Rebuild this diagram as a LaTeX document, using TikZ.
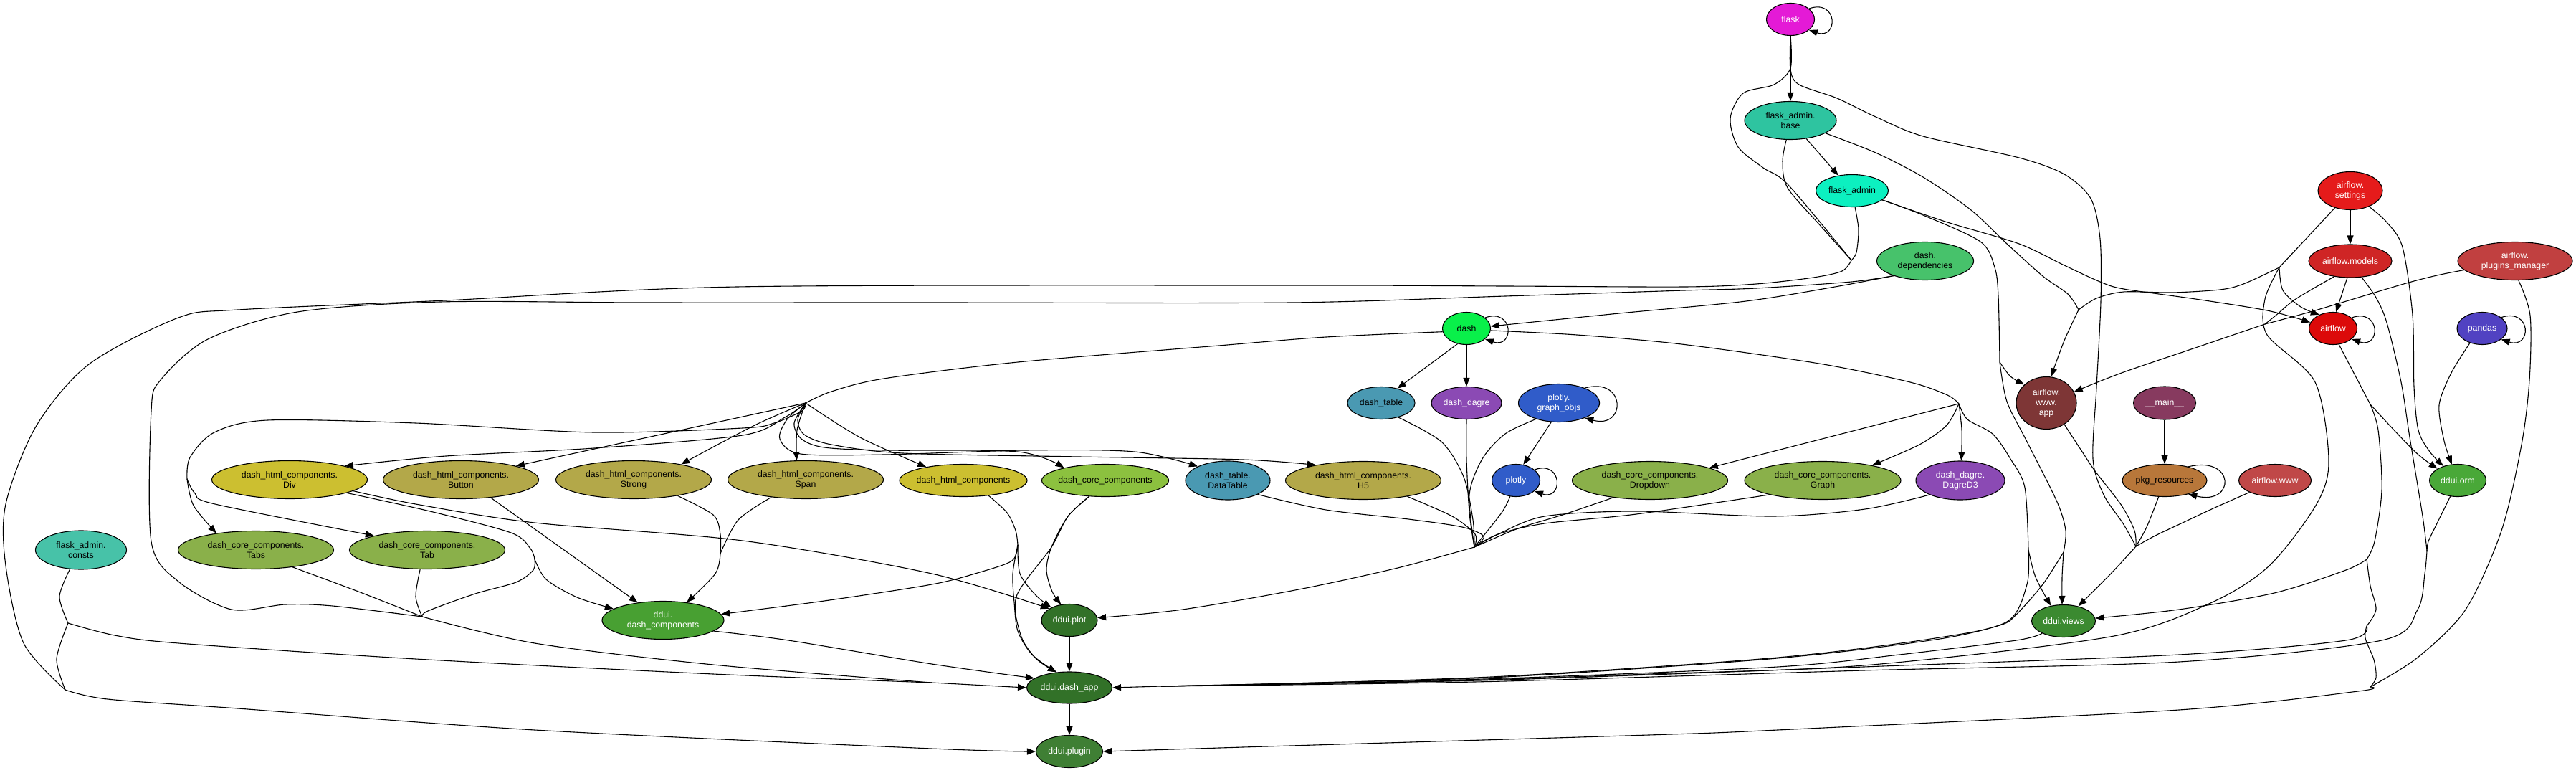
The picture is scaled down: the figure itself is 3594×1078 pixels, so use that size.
\documentclass[tikz,border=0pt]{standalone}
\usepackage{fontspec}
\setmainfont{Liberation Sans}
\usetikzlibrary{shapes.geometric,arrows.meta}
\pgfdeclarelayer{background}
\pgfsetlayers{background,main}
\definecolor{cFlask}{HTML}{E41AD6}
\definecolor{cFab}{HTML}{2EC4A0}
\definecolor{cFa}{HTML}{0CF0C0}
\definecolor{cDd}{HTML}{47C26B}
\definecolor{cAs}{HTML}{E51B1B}
\definecolor{cAm}{HTML}{CF2525}
\definecolor{cApm}{HTML}{C14040}
\definecolor{cDash}{HTML}{09F04A}
\definecolor{cAf}{HTML}{DC0A0A}
\definecolor{cPd}{HTML}{5142C2}
\definecolor{cDt}{HTML}{4A99B2}
\definecolor{cDg}{HTML}{8B4AB4}
\definecolor{cPl}{HTML}{305CC9}
\definecolor{cAwa}{HTML}{7E3636}
\definecolor{cMn}{HTML}{873A5F}
\definecolor{cDiv}{HTML}{CCBF30}
\definecolor{cHc}{HTML}{B3A849}
\definecolor{cDcc}{HTML}{8CC13F}
\definecolor{cCc}{HTML}{8AB04A}
\definecolor{cPkg}{HTML}{B8773A}
\definecolor{cAw}{HTML}{C04848}
\definecolor{cOrm}{HTML}{49A838}
\definecolor{cFac}{HTML}{47C2A8}
\definecolor{cDdc}{HTML}{48A032}
\definecolor{cPlot}{HTML}{327128}
\definecolor{cVw}{HTML}{3B8A30}
\definecolor{cPlg}{HTML}{3F7F34}
\begin{document}
\begin{tikzpicture}[x=1pt,y=-1pt,tension=0.5,
  nd/.style={ellipse,draw=black,line width=1.1pt,inner sep=0pt,align=center,font=\fontsize{12.3}{14}\selectfont},
  ln/.style={draw=black,line width=1.1pt,line join=round},
  ar/.style={ln,-{Triangle[length=12pt,width=9pt]}}]
\useasboundingbox (0,0) rectangle (3594,1078);
% ---------------- nodes
\node[nd,minimum width=67pt,minimum height=45pt,fill=cFlask,text=white] (fl) at (2498,27) {flask};
\node[nd,minimum width=128pt,minimum height=53pt,fill=cFab] (fab) at (2498,168) {flask\_admin.\\base};
\node[nd,minimum width=101pt,minimum height=45pt,fill=cFa] (fa) at (2584,266) {flask\_admin};
\node[nd,minimum width=135pt,minimum height=53pt,fill=cDd] (dd) at (2686,364) {dash.\\dependencies};
\node[nd,minimum width=90pt,minimum height=53pt,fill=cAs,text=white] (as) at (3279,266) {airflow.\\settings};
\node[nd,minimum width=116pt,minimum height=46pt,fill=cAm,text=white] (am) at (3279,364) {airflow.models};
\node[nd,minimum width=160pt,minimum height=53pt,fill=cApm,text=white] (apm) at (3509,364) {airflow.\\plugins\_manager};
\node[nd,minimum width=67pt,minimum height=45pt,fill=cDash] (da) at (2046,458) {dash};
\node[nd,minimum width=67pt,minimum height=45pt,fill=cAf,text=white] (af) at (3255,458) {airflow};
\node[nd,minimum width=70pt,minimum height=45pt,fill=cPd,text=white] (pd) at (3463,458) {pandas};
\node[nd,minimum width=94pt,minimum height=45pt,fill=cDt] (dt) at (1927,562) {dash\_table};
\node[nd,minimum width=98pt,minimum height=45pt,fill=cDg,text=white] (dg) at (2046,562) {dash\_dagre};
\node[nd,minimum width=113pt,minimum height=53pt,fill=cPl,text=white] (pgo) at (2175,562) {plotly.\\graph\_objs};
\node[nd,minimum width=84pt,minimum height=73pt,fill=cAwa,text=white] (awa) at (2855,562) {airflow.\\www.\\app};
\node[nd,minimum width=87pt,minimum height=46pt,fill=cMn,text=white] (mn) at (3020,562) {\_\_main\_\_};
\node[nd,minimum width=217pt,minimum height=53pt,fill=cDiv] (div) at (404,669) {dash\_html\_components.\\Div};
\node[nd,minimum width=217pt,minimum height=53pt,fill=cHc] (btn) at (643,669) {dash\_html\_components.\\Button};
\node[nd,minimum width=217pt,minimum height=53pt,fill=cHc] (str) at (884,669) {dash\_html\_components.\\Strong};
\node[nd,minimum width=217pt,minimum height=53pt,fill=cHc] (spn) at (1124,669) {dash\_html\_components.\\Span};
\node[nd,minimum width=178pt,minimum height=45pt,inner xsep=-5pt,fill=cDiv] (dhc) at (1344,670) {dash\_html\_components};
\node[nd,minimum width=177pt,minimum height=45pt,inner xsep=-5pt,fill=cDcc] (dcc) at (1542,670) {dash\_core\_components};
\node[nd,minimum width=118pt,minimum height=54pt,fill=cDt] (dtt) at (1713,670) {dash\_table.\\DataTable};
\node[nd,minimum width=217pt,minimum height=53pt,fill=cHc] (h5) at (1902,670) {dash\_html\_components.\\H5};
\node[nd,minimum width=67pt,minimum height=45pt,fill=cPl,text=white] (pl) at (2115,670) {plotly};
\node[nd,minimum width=217pt,minimum height=53pt,fill=cCc] (dd2) at (2302,670) {dash\_core\_components.\\Dropdown};
\node[nd,minimum width=218pt,minimum height=53pt,fill=cCc] (gr) at (2543,670) {dash\_core\_components.\\Graph};
\node[nd,minimum width=124pt,minimum height=54pt,fill=cDg,text=white] (d3) at (2735,670) {dash\_dagre.\\DagreD3};
\node[nd,minimum width=118pt,minimum height=45pt,fill=cPkg] (pkg) at (3020,670) {pkg\_resources};
\node[nd,minimum width=101pt,minimum height=45pt,fill=cAw,text=white] (aw) at (3174,670) {airflow.www};
\node[nd,minimum width=79pt,minimum height=45pt,fill=cOrm,text=white] (orm) at (3429,670) {ddui.orm};
\node[nd,minimum width=127pt,minimum height=54pt,fill=cFac] (fac) at (113,767) {flask\_admin.\\consts};
\node[nd,minimum width=217pt,minimum height=53pt,fill=cCc] (tabs) at (357,767) {dash\_core\_components.\\Tabs};
\node[nd,minimum width=217pt,minimum height=53pt,fill=cCc] (tab) at (596,767) {dash\_core\_components.\\Tab};
\node[nd,minimum width=170pt,minimum height=53pt,fill=cDdc,text=white] (ddc) at (925,865) {ddui.\\dash\_components};
\node[nd,minimum width=78pt,minimum height=45pt,fill=cPlot,text=white] (plt) at (1492,865) {ddui.plot};
\node[nd,minimum width=89pt,minimum height=45pt,fill=cVw,text=white] (vw) at (2879,866) {ddui.views};
\node[nd,minimum width=119pt,minimum height=44pt,fill=cPlot,text=white] (app) at (1492,959) {ddui.dash\_app};
\node[nd,minimum width=93pt,minimum height=45pt,fill=cPlg,text=white] (plg) at (1492,1048) {ddui.plugin};
% ---------------- junction points
\coordinate (M1) at (2583,363);
\coordinate (J3) at (91,962);
\coordinate (J1) at (589,860);
\coordinate (J2) at (1300,952);
\coordinate (Jc) at (95,869);
\coordinate (Jd) at (746,780);
\coordinate (Js) at (1005,772);
\coordinate (Jh) at (1420,760);
\coordinate (F1) at (1124,562);
\coordinate (Jt) at (261,668);
\coordinate (F2) at (2733,563);
\coordinate (F3) at (2057,763);
\coordinate (Jv1) at (2830,767);
\coordinate (Jv2) at (2879,770);
\coordinate (Jv3) at (2980,762);
\coordinate (Jv4) at (2790,505);
\coordinate (Jw) at (2900,432);
\coordinate (Jm) at (3160,452);
\coordinate (Jo) at (3386,768);
\coordinate (Ja) at (3307,564);
\coordinate (Jb) at (3302,780);
\coordinate (Jc3) at (3302,873);
\coordinate (Jp) at (3307,958);
\coordinate (J4) at (1620,957);
\coordinate (Jst) at (3180,373);
\begin{pgfonlayer}{background}
\fill[white] (0,0) rectangle (3594,1078);
% ---- flask family
\draw[ar] (fl.south) -- (fab.north);
\draw[ar] (fl.30) .. controls +(41,-14) and +(41,14) .. (fl.-30);
\draw[ar] (fab.-49) -- (fa.132);
\draw[ln] plot[smooth] coordinates {(fl.south) (2498,95) (2475,118) (2432,130) (2414,165) (2425,205) (2460,234) (2495,258) (M1)};
\draw[ln] plot[smooth] coordinates {(fab.258) (2487,225) (2494,262) (2540,315) (M1)};
\draw[ln] plot[smooth] coordinates {(fa.-80) (2593,320) (2590,352) (M1)};
\draw[ln] plot[smooth] coordinates {(M1) (2570,378) (2530,387) (2450,396) (2350,400) (2100,399) (1800,398) (1028,400) (622,419) (332,432) (249,443) (124,508) (50,595) (8,703) (8,789) (33,897) (J3)};
\draw[ar] plot[smooth] coordinates {(J3) (150,975) (332,988) (746,1018) (1300,1044) (plg.west)};
\draw[ln] plot[smooth] coordinates {(fl.south) (2498,97) (2510,118) (2563,137) (2617,163) (2683,190) (2817,220) (2880,243) (2917,277) (2930,333) (2931,420) (2925,540) (2920,640) (2935,690) (2962,730) (Jv3)};
% ---- dash.dependencies
\draw[ar] plot[smooth] coordinates {(dd.205) (2560,400) (2436,420) (2259,437) (da.5)};
\draw[ln] plot[smooth] coordinates {(dd.205) (2583,393) (2450,402) (2350,405) (2100,413) (1800,422) (1300,422) (900,422) (614,421) (415,435) (290,473) (224,530) (211,573) (211,755) (249,811) (323,850) (398,843) (464,845) (J1)};
% ---- left bottom bundle
\draw[ln] plot[smooth] coordinates {(J1) (746,897) (995,927) (J2)};
\draw[ar] (J2) -- (app.180);
\draw[ln] plot[smooth] coordinates {(fac.240) (83,832) (Jc)};
\draw[ln] plot[smooth] coordinates {(Jc) (160,886) (249,897) (580,919) (995,940) (J2)};
\draw[ln] plot[smooth] coordinates {(Jc) (79,919) (J3)};
\draw[ln] plot[smooth] coordinates {(tabs.-25) (500,825) (J1)};
\draw[ln] plot[smooth] coordinates {(tab.250) (580,832) (J1)};
\draw[ln] plot[smooth] coordinates {(div.-13) (600,713) (713,743) (740,765) (Jd)};
\draw[ar] plot[smooth] coordinates {(Jd) (762,808) (805,833) (ddc.167)};
\draw[ln] plot[smooth] coordinates {(Jd) (744,795) (720,812) (663,828) (597,852) (J1)};
\draw[ar] plot[smooth] coordinates {(div.-10) (580,703) (746,729) (1036,754) (1300,800) (plt.150)};
\draw[ar] (btn.-31) -- (ddc.145);
\draw[ln] plot[smooth] coordinates {(str.-20) (995,718) (1005,745) (Js)};
\draw[ln] plot[smooth] coordinates {(spn.207) (1030,725) (Js)};
\draw[ar] plot[smooth] coordinates {(Js) (998,800) (ddc.37)};
\draw[ln] plot[smooth] coordinates {(dhc.-31) (1405,715) (1417,740) (Jh)};
\draw[ar] plot[smooth] coordinates {(Jh) (1412,782) (1367,798) (1300,815) (1150,838) (ddc.6)};
\draw[ar] plot[smooth] coordinates {(Jh) (1423,800) (1445,830) (plt.145)};
\draw[ar] plot[smooth] coordinates {(Jh) (1413,800) (1415,840) (1420,880) (1440,913) (app.130)};
\draw[ar] plot[smooth] coordinates {(dcc.-135) (1490,720) (1467,763) (1460,795) (1468,825) (plt.118)};
\draw[ar] plot[smooth] coordinates {(dcc.-135) (1490,720) (1467,763) (1433,807) (1418,832) (1417,857) (1427,893) (1447,920) (app.130)};
\draw[ar] (plt.south) -- (app.north);
\draw[ar] (app.south) -- (plg.north);
\draw[ar] plot[smooth] coordinates {(ddc.-12) (1100,893) (1300,926) (app.165)};
% ---- dash
\draw[ar] (da.-120) -- (dt.42);
\draw[ar] (da.south) -- (dg.north);
\draw[ar] (da.30) .. controls +(41,-14) and +(41,14) .. (da.-30);
\draw[ln] plot[smooth] coordinates {(da.188) (1850,470) (1700,482) (1420,505) (1233,528) (1160,546) (F1)};
\draw[ar] plot[smooth] coordinates {(F1) (1112,600) (spn.115)};
\draw[ar] plot[smooth] coordinates {(F1) (1053,593) (str.18)};
\draw[ar] (F1) -- (btn.14);
\draw[ar] plot[smooth] coordinates {(F1) (1095,582) (1036,607) (829,625) (622,636) (div.14)};
\draw[ln] plot[smooth] coordinates {(F1) (1119,573) (1080,590) (1036,597) (829,603) (580,590) (373,586) (299,603) (265,638) (Jt)};
\draw[ar] plot[smooth] coordinates {(Jt) (270,705) (tabs.157)};
\draw[ar] plot[smooth] coordinates {(Jt) (272,688) (300,703) (tab.165)};
\draw[ar] plot[smooth] coordinates {(F1) (1200,610) (dhc.160)};
\draw[ar] plot[smooth] coordinates {(F1) (1108,590) (1118,612) (1150,624) (1233,628) (1420,630) (dcc.163)};
\draw[ar] plot[smooth] coordinates {(F1) (1098,585) (1088,612) (1117,633) (1233,634) (1430,628) (1583,630) (dtt.155)};
\draw[ar] plot[smooth] coordinates {(F1) (1113,585) (1122,606) (1160,620) (1260,632) (1506,637) (1735,641) (h5.162)};
\draw[ln] plot[smooth] coordinates {(da.-5) (2200,467) (2346,480) (2538,507) (2665,533) (2717,551) (F2)};
\draw[ar] (F2) -- (dd2.12);
\draw[ar] plot[smooth] coordinates {(F2) (2716,593) (2678,620) (gr.17)};
\draw[ar] plot[smooth] coordinates {(F2) (2737,600) (d3.87)};
\draw[ln] plot[smooth] coordinates {(F2) (2745,585) (2780,605) (2805,640) (2825,680) (Jv1)};
\draw[ar] plot[smooth] coordinates {(Jv1) (2840,805) (vw.130)};
\draw[ln] plot[smooth] coordinates {(Jv1) (2828,815) (2800,867) (2700,890) (2480,917) (2100,943) (1800,953) (J4)};
% ---- plot bundle
\draw[ln] plot[smooth] coordinates {(dt.-40) (2011,616) (2042,665) (2055,725) (F3)};
\draw[ln] plot[smooth] coordinates {(dg.south) (2046,640) (2050,715) (F3)};
\draw[ln] plot[smooth] coordinates {(pgo.215) (2100,605) (2068,640) (2050,690) (F3)};
\draw[ln] plot[smooth] coordinates {(pl.-110) (2095,715) (F3)};
\draw[ln] plot[smooth] coordinates {(dtt.-25) (1850,711) (1965,724) (2040,735) (2070,748) (F3)};
\draw[ln] plot[smooth] coordinates {(h5.-20) (2026,720) (2058,745) (F3)};
\draw[ln] plot[smooth] coordinates {(dd2.205) (2180,718) (2118,737) (F3)};
\draw[ln] plot[smooth] coordinates {(gr.195) (2283,717) (2155,730) (2090,745) (F3)};
\draw[ln] plot[smooth] coordinates {(d3.205) (2602,710) (2474,720) (2283,713) (2155,720) (2090,745) (F3)};
\draw[ar] plot[smooth] coordinates {(F3) (1950,792) (1812,822) (1650,850) (plt.5)};
\draw[ar] (pgo.-112) -- (pl.65);
\draw[ar] (pgo.30) .. controls +(58,-16) and +(58,16) .. (pgo.-30);
\draw[ar] (pl.30) .. controls +(40,-14) and +(40,14) .. (pl.-30);
% ---- airflow side
\draw[ar] (as.south) -- (am.north);
\draw[ln] (as.228) -- (Jst);
\draw[ln] plot[smooth] coordinates {(Jst) (3130,396) (3097,404) (3030,408) (2963,407) (2925,416) (Jw)};
\draw[ln] plot[smooth] coordinates {(fab.-20) (2617,213) (2683,247) (2750,293) (2800,340) (2850,385) (2885,410) (Jw)};
\draw[ar] plot[smooth] coordinates {(Jw) (2880,475) (awa.80)};
\draw[ar] plot[smooth] coordinates {(Jst) (3185,405) (3210,428) (af.135)};
\draw[ln] plot[smooth] coordinates {(Jst) (3160,417) (3163,467) (3230,533) (3249,642) (3232,703) (3166,789) (3084,841) (2944,888) (2600,928) (2300,940) (2000,950) (J4)};
\draw[ar] plot[smooth] coordinates {(as.-40) (3330,310) (3352,345) (3366,440) (3368,540) (3374,600) (3390,630) (orm.135)};
\draw[ar] (am.260) -- (af.80);
\draw[ln] plot[smooth] coordinates {(am.224) (3203,417) (3175,440) (Jm)};
\draw[ln] plot[smooth] coordinates {(apm.190) (3400,384) (3350,397) (3230,433) (Jm)};
\draw[ar] plot[smooth] coordinates {(Jm) (3063,485) (2960,520) (awa.22)};
\draw[ln] plot[smooth] coordinates {(am.-55) (3315,415) (3330,450) (3350,533) (3362,610) (3380,720) (Jo)};
\draw[ln] plot[smooth] coordinates {(orm.-115) (3400,730) (3388,755) (Jo)};
\draw[ln] plot[smooth] coordinates {(Jo) (3383,800) (3373,850) (3323,893) (3040,923) (2600,935) (2100,950) (1800,955) (J4)};
\draw[ar] plot[smooth] coordinates {(pd.230) (3420,520) (3403,565) (3410,615) (orm.110)};
\draw[ar] (pd.30) .. controls +(43,-14) and +(43,14) .. (pd.-30);
\draw[ar] (af.30) .. controls +(41,-14) and +(41,14) .. (af.-30);
\draw[ln] (af.-70) -- (Ja);
\draw[ar] plot[smooth] coordinates {(Ja) (3345,605) (3375,635) (orm.150)};
\draw[ln] plot[smooth] coordinates {(Ja) (3318,600) (3323,683) (3313,755) (Jb)};
\draw[ar] plot[smooth] coordinates {(Jb) (3273,795) (3173,827) (3040,850) (vw.5)};
\draw[ln] plot[smooth] coordinates {(Jb) (3307,817) (3315,850) (Jc3)};
\draw[ln] plot[smooth] coordinates {(Jc3) (3273,893) (3040,913) (2600,930) (2100,948) (1800,954) (J4)};
\draw[ln] plot[smooth] coordinates {(Jc3) (3300,890) (3312,920) (3315,945) (Jp)};
\draw[ln] plot[smooth] coordinates {(apm.-80) (3530,440) (3529,530) (3518,620) (3490,740) (3440,850) (3373,917) (Jp)};
\draw[ar] plot[smooth] coordinates {(Jp) (3290,964) (3040,990) (2480,1018) (2300,1025) (1800,1040) (plg.east)};
\draw[ar] (J4) -- (app.east);
\draw[ln] plot[smooth] coordinates {(vw.210) (2813,893) (2650,913) (2480,930) (2100,946) (1800,954) (J4)};
% ---- flask_admin
\draw[ln] plot[smooth] coordinates {(fa.-17) (2683,300) (2763,337) (2783,373) (2788,413) (Jv4)};
\draw[ar] plot[smooth] coordinates {(Jv4) (2805,525) (awa.140)};
\draw[ln] plot[smooth] coordinates {(Jv4) (2800,560) (2828,616) (2870,700) (2882,740) (Jv2)};
\draw[ar] plot[smooth] coordinates {(Jv2) (2877,805) (vw.95)};
\draw[ln] plot[smooth] coordinates {(Jv2) (2850,815) (2813,857) (2790,872) (2700,892) (2480,918) (2100,944) (1800,953) (J4)};
\draw[ar] plot[smooth] coordinates {(fa.-17) (2717,310) (2817,340) (2880,370) (2930,393) (2963,403) (3063,417) (3163,433) (af.165)};
% ---- views bundle
\draw[ln] plot[smooth] coordinates {(awa.-50) (2905,630) (2923,657) (2960,705) (2978,740) (Jv3)};
\draw[ln] plot[smooth] coordinates {(pkg.-110) (2995,735) (Jv3)};
\draw[ln] plot[smooth] coordinates {(aw.205) (3090,708) (3043,730) (3005,748) (Jv3)};
\draw[ar] plot[smooth] coordinates {(Jv3) (2945,800) (vw.45)};
\draw[ar] (mn.south) -- (pkg.north);
\draw[ar] (pkg.30) .. controls +(66,-16) and +(66,16) .. (pkg.-30);
\end{pgfonlayer}
\end{tikzpicture}
\end{document}
